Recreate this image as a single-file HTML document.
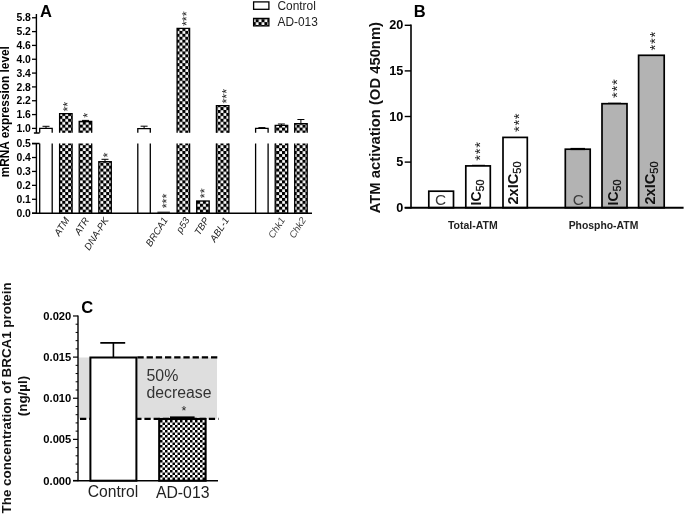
<!DOCTYPE html><html><head><meta charset="utf-8"><title>Figure</title>
<style>html,body{margin:0;padding:0;background:#fff;}svg{display:block;}text{font-family:"Liberation Sans", Arial, sans-serif;}</style></head><body>
<svg width="685" height="516" viewBox="0 0 685 516">
<defs>
<pattern id="chkA" patternUnits="userSpaceOnUse" width="5.86" height="5.86" x="3.65" y="1.6"><rect width="5.86" height="5.86" fill="#fff"/><rect x="0" y="0" width="3.1" height="3.1" fill="#000"/><rect x="2.93" y="2.93" width="3.1" height="3.1" fill="#000"/><rect x="-2.93" y="2.93" width="3.1" height="3.1" fill="#000"/><rect x="2.93" y="-2.93" width="3.1" height="3.1" fill="#000"/></pattern>
<pattern id="chkC" patternUnits="userSpaceOnUse" width="5" height="5" x="0" y="0"><rect width="5" height="5" fill="#fff"/><rect x="0" y="0" width="2.5" height="2.5" fill="#000"/><rect x="2.5" y="2.5" width="2.5" height="2.5" fill="#000"/></pattern>
</defs>
<rect width="685" height="516" fill="#fff"/>
<g id="panelA">
<text x="40" y="16.6" font-size="16.5" font-weight="bold" fill="#000">A</text>
<text transform="translate(8.5,177.3) rotate(-90)" font-size="11.85" font-weight="bold" fill="#000">mRNA expression level</text>
<path d="M36.4 14 V133 M33.9 133 H39.6" fill="none" stroke="#000" stroke-width="1.4"/>
<path d="M36.4 213.2 V143.5 M32 143.5 H39.6" fill="none" stroke="#000" stroke-width="1.4"/>
<path d="M32 128.40 H36.4" stroke="#000" stroke-width="1.3"/>
<text x="30.9" y="132.10" font-size="10.4" font-weight="bold" text-anchor="end" fill="#000">1.0</text>
<path d="M32 114.57 H36.4" stroke="#000" stroke-width="1.3"/>
<text x="30.9" y="118.27" font-size="10.4" font-weight="bold" text-anchor="end" fill="#000">1.6</text>
<path d="M32 100.74 H36.4" stroke="#000" stroke-width="1.3"/>
<text x="30.9" y="104.44" font-size="10.4" font-weight="bold" text-anchor="end" fill="#000">2.2</text>
<path d="M32 86.91 H36.4" stroke="#000" stroke-width="1.3"/>
<text x="30.9" y="90.61" font-size="10.4" font-weight="bold" text-anchor="end" fill="#000">2.8</text>
<path d="M32 73.08 H36.4" stroke="#000" stroke-width="1.3"/>
<text x="30.9" y="76.78" font-size="10.4" font-weight="bold" text-anchor="end" fill="#000">3.4</text>
<path d="M32 59.25 H36.4" stroke="#000" stroke-width="1.3"/>
<text x="30.9" y="62.95" font-size="10.4" font-weight="bold" text-anchor="end" fill="#000">4.0</text>
<path d="M32 45.42 H36.4" stroke="#000" stroke-width="1.3"/>
<text x="30.9" y="49.12" font-size="10.4" font-weight="bold" text-anchor="end" fill="#000">4.6</text>
<path d="M32 31.59 H36.4" stroke="#000" stroke-width="1.3"/>
<text x="30.9" y="35.29" font-size="10.4" font-weight="bold" text-anchor="end" fill="#000">5.2</text>
<path d="M32 17.76 H36.4" stroke="#000" stroke-width="1.3"/>
<text x="30.9" y="21.46" font-size="10.4" font-weight="bold" text-anchor="end" fill="#000">5.8</text>
<path d="M32 213.20 H36.4" stroke="#000" stroke-width="1.3"/>
<text x="30.9" y="216.90" font-size="10.4" font-weight="bold" text-anchor="end" fill="#000">0.0</text>
<path d="M32 199.28 H36.4" stroke="#000" stroke-width="1.3"/>
<text x="30.9" y="202.98" font-size="10.4" font-weight="bold" text-anchor="end" fill="#000">0.1</text>
<path d="M32 185.36 H36.4" stroke="#000" stroke-width="1.3"/>
<text x="30.9" y="189.06" font-size="10.4" font-weight="bold" text-anchor="end" fill="#000">0.2</text>
<path d="M32 171.44 H36.4" stroke="#000" stroke-width="1.3"/>
<text x="30.9" y="175.14" font-size="10.4" font-weight="bold" text-anchor="end" fill="#000">0.3</text>
<path d="M32 157.52 H36.4" stroke="#000" stroke-width="1.3"/>
<text x="30.9" y="161.22" font-size="10.4" font-weight="bold" text-anchor="end" fill="#000">0.4</text>
<path d="M32 143.60 H36.4" stroke="#000" stroke-width="1.3"/>
<text x="30.9" y="147.30" font-size="10.4" font-weight="bold" text-anchor="end" fill="#000">0.5</text>
<rect x="39.7" y="128.4" width="12.5" height="4.4" fill="#fff"/>
<path d="M39.7 132.8 V128.4 H52.2 V132.8" fill="none" stroke="#000" stroke-width="1.3"/>
<rect x="39.7" y="143.5" width="12.5" height="69.7" fill="#fff"/>
<path d="M39.7 143.5 V213.2 M52.2 143.5 V213.2" fill="none" stroke="#000" stroke-width="1.3"/>
<path d="M46.0 128.4 V126.3 M42.5 126.3 H49.5" fill="none" stroke="#000" stroke-width="1"/>
<rect x="59.6" y="113.6" width="12.5" height="19.2" fill="url(#chkA)"/>
<path d="M59.6 132.8 V113.6 H72.1 V132.8" fill="none" stroke="#000" stroke-width="1.3"/>
<rect x="59.6" y="143.5" width="12.5" height="69.7" fill="url(#chkA)"/>
<path d="M59.6 143.5 V213.2 M72.1 143.5 V213.2" fill="none" stroke="#000" stroke-width="1.3"/>
<text transform="translate(72.0,111.5) rotate(-90)" font-size="12.5" fill="#222">**</text>
<rect x="79.2" y="121.5" width="12.5" height="11.3" fill="url(#chkA)"/>
<path d="M79.2 132.8 V121.5 H91.7 V132.8" fill="none" stroke="#000" stroke-width="1.3"/>
<rect x="79.2" y="143.5" width="12.5" height="69.7" fill="url(#chkA)"/>
<path d="M79.2 143.5 V213.2 M91.7 143.5 V213.2" fill="none" stroke="#000" stroke-width="1.3"/>
<path d="M85.5 121.5 V120.4 M82.0 120.4 H89.0" fill="none" stroke="#000" stroke-width="1"/>
<text transform="translate(92.2,117.8) rotate(-90)" font-size="12.5" fill="#222">*</text>
<rect x="98.8" y="161.7" width="12.5" height="51.5" fill="url(#chkA)" stroke="#000" stroke-width="1.3"/>
<path d="M105.0 161.7 V159.3 M101.5 159.3 H108.5" fill="none" stroke="#000" stroke-width="1"/>
<text transform="translate(112.0,157.5) rotate(-90)" font-size="12.5" fill="#222">*</text>
<rect x="137.8" y="128.6" width="12.5" height="4.2" fill="#fff"/>
<path d="M137.8 132.8 V128.6 H150.3 V132.8" fill="none" stroke="#000" stroke-width="1.3"/>
<rect x="137.8" y="143.5" width="12.5" height="69.7" fill="#fff"/>
<path d="M137.8 143.5 V213.2 M150.3 143.5 V213.2" fill="none" stroke="#000" stroke-width="1.3"/>
<path d="M144.1 128.6 V126.2 M140.6 126.2 H147.6" fill="none" stroke="#000" stroke-width="1"/>
<path d="M157.4 212.2 H169.9" stroke="#000" stroke-width="1"/>
<text transform="translate(171.0,208.3) rotate(-90)" font-size="12.5" fill="#222">***</text>
<rect x="177.1" y="28.4" width="12.5" height="104.4" fill="url(#chkA)"/>
<path d="M177.1 132.8 V28.4 H189.6 V132.8" fill="none" stroke="#000" stroke-width="1.3"/>
<rect x="177.1" y="143.5" width="12.5" height="69.7" fill="url(#chkA)"/>
<path d="M177.1 143.5 V213.2 M189.6 143.5 V213.2" fill="none" stroke="#000" stroke-width="1.3"/>
<text transform="translate(190.8,26.0) rotate(-90)" font-size="12.5" fill="#222">***</text>
<rect x="196.7" y="201.0" width="12.5" height="12.2" fill="url(#chkA)" stroke="#000" stroke-width="1.3"/>
<text transform="translate(209.0,198.2) rotate(-90)" font-size="12.5" fill="#222">**</text>
<rect x="216.4" y="105.7" width="12.5" height="27.1" fill="url(#chkA)"/>
<path d="M216.4 132.8 V105.7 H228.9 V132.8" fill="none" stroke="#000" stroke-width="1.3"/>
<rect x="216.4" y="143.5" width="12.5" height="69.7" fill="url(#chkA)"/>
<path d="M216.4 143.5 V213.2 M228.9 143.5 V213.2" fill="none" stroke="#000" stroke-width="1.3"/>
<text transform="translate(230.9,103.5) rotate(-90)" font-size="12.5" fill="#222">***</text>
<rect x="255.6" y="128.3" width="12.5" height="4.5" fill="#fff"/>
<path d="M255.6 132.8 V128.3 H268.1 V132.8" fill="none" stroke="#000" stroke-width="1.3"/>
<rect x="255.6" y="143.5" width="12.5" height="69.7" fill="#fff"/>
<path d="M255.6 143.5 V213.2 M268.1 143.5 V213.2" fill="none" stroke="#000" stroke-width="1.3"/>
<path d="M261.9 128.3 V127.6 M258.4 127.6 H265.4" fill="none" stroke="#000" stroke-width="1"/>
<rect x="275.2" y="125.3" width="12.5" height="7.5" fill="url(#chkA)"/>
<path d="M275.2 132.8 V125.3 H287.7 V132.8" fill="none" stroke="#000" stroke-width="1.3"/>
<rect x="275.2" y="143.5" width="12.5" height="69.7" fill="url(#chkA)"/>
<path d="M275.2 143.5 V213.2 M287.7 143.5 V213.2" fill="none" stroke="#000" stroke-width="1.3"/>
<path d="M281.4 125.3 V124.0 M277.9 124.0 H284.9" fill="none" stroke="#000" stroke-width="1"/>
<rect x="294.7" y="123.7" width="12.5" height="9.1" fill="url(#chkA)"/>
<path d="M294.7 132.8 V123.7 H307.2 V132.8" fill="none" stroke="#000" stroke-width="1.3"/>
<rect x="294.7" y="143.5" width="12.5" height="69.7" fill="url(#chkA)"/>
<path d="M294.7 143.5 V213.2 M307.2 143.5 V213.2" fill="none" stroke="#000" stroke-width="1.3"/>
<path d="M300.9 123.7 V119.5 M297.4 119.5 H304.4" fill="none" stroke="#000" stroke-width="1"/>
<path d="M32 213.2 H312" stroke="#000" stroke-width="1.4"/>
<text transform="translate(69.8,220) rotate(-57.5)" font-size="9.7" font-style="italic" text-anchor="end" fill="#222">ATM</text>
<text transform="translate(89.5,220) rotate(-57.5)" font-size="9.7" font-style="italic" text-anchor="end" fill="#222">ATR</text>
<text transform="translate(109.0,220) rotate(-57.5)" font-size="9.7" font-style="italic" text-anchor="end" fill="#222">DNA-PK</text>
<text transform="translate(168.2,220) rotate(-57.5)" font-size="9.7" font-style="italic" text-anchor="end" fill="#222">BRCA1</text>
<text transform="translate(190.0,220) rotate(-57.5)" font-size="9.7" font-style="italic" text-anchor="end" fill="#222">p53</text>
<text transform="translate(209.5,220) rotate(-57.5)" font-size="9.7" font-style="italic" text-anchor="end" fill="#222">TBP</text>
<text transform="translate(229.5,220) rotate(-57.5)" font-size="9.7" font-style="italic" text-anchor="end" fill="#222">ABL-1</text>
<text transform="translate(285.4,220) rotate(-57.5)" font-size="9.7" font-style="italic" text-anchor="end" fill="#444">Chk1</text>
<text transform="translate(306.3,220) rotate(-57.5)" font-size="9.7" font-style="italic" text-anchor="end" fill="#444">Chk2</text>
<rect x="253.6" y="1.9" width="15.3" height="7.4" fill="#fff" stroke="#000" stroke-width="1.3"/>
<rect x="253.6" y="18.4" width="15.3" height="7.5" fill="url(#chkA)" stroke="#000" stroke-width="1.3"/>
<text x="277.5" y="9.5" font-size="11.9" fill="#222">Control</text>
<text x="277.5" y="26.0" font-size="11.9" fill="#222">AD-013</text>
</g>
<g id="panelB">
<text x="413.8" y="16.7" font-size="16.5" font-weight="bold" fill="#000">B</text>
<text transform="translate(379.7,213.3) rotate(-90)" font-size="14.8" font-weight="bold" fill="#111">ATM activation (OD 450nm)</text>
<path d="M411.0 24.6 V208.5" stroke="#000" stroke-width="1.6"/>
<path d="M404.7 207.70 H411.0" stroke="#000" stroke-width="1.4"/>
<text x="403.3" y="211.80" font-size="12.7" font-weight="bold" text-anchor="end" fill="#000">0</text>
<path d="M404.7 162.10 H411.0" stroke="#000" stroke-width="1.4"/>
<text x="403.3" y="166.20" font-size="12.7" font-weight="bold" text-anchor="end" fill="#000">5</text>
<path d="M404.7 116.50 H411.0" stroke="#000" stroke-width="1.4"/>
<text x="403.3" y="120.60" font-size="12.7" font-weight="bold" text-anchor="end" fill="#000">10</text>
<path d="M404.7 70.90 H411.0" stroke="#000" stroke-width="1.4"/>
<text x="403.3" y="75.00" font-size="12.7" font-weight="bold" text-anchor="end" fill="#000">15</text>
<path d="M404.7 25.30 H411.0" stroke="#000" stroke-width="1.4"/>
<text x="403.3" y="29.40" font-size="12.7" font-weight="bold" text-anchor="end" fill="#000">20</text>
<rect x="428.8" y="191.2" width="24.7" height="16.5" fill="#fff" stroke="#000" stroke-width="1.7"/>
<rect x="465.8" y="165.9" width="24.5" height="41.8" fill="#fff" stroke="#000" stroke-width="1.7"/>
<rect x="503.0" y="137.4" width="24.3" height="70.3" fill="#fff" stroke="#000" stroke-width="1.7"/>
<rect x="565.3" y="149.2" width="24.9" height="58.5" fill="#b3b3b3" stroke="#000" stroke-width="1.7"/>
<rect x="602.0" y="103.7" width="25.0" height="104.0" fill="#b3b3b3" stroke="#000" stroke-width="1.7"/>
<rect x="638.6" y="55.3" width="25.6" height="152.4" fill="#b3b3b3" stroke="#000" stroke-width="1.7"/>
<path d="M404.7 207.8 H683.6" stroke="#000" stroke-width="1.9"/>
<path d="M472 165.4 H485" stroke="#000" stroke-width="1.2"/>
<path d="M570.5 149.0 H585" stroke="#000" stroke-width="2.2"/>
<path d="M608 103.3 H621" stroke="#000" stroke-width="1.2"/>
<text x="440.6" y="205.4" font-size="15.4" text-anchor="middle" fill="#3c3c3c">C</text>
<text x="578.2" y="205.4" font-size="15.4" text-anchor="middle" fill="#3c3c3c">C</text>
<text transform="translate(481.2,205.5) rotate(-90)" font-size="14" font-weight="bold" fill="#111">IC<tspan font-size="10.8" font-weight="normal" dy="3" stroke="#111" stroke-width="0.3">50</tspan></text>
<text transform="translate(617.7,205.5) rotate(-90)" font-size="14" font-weight="bold" fill="#111">IC<tspan font-size="10.8" font-weight="normal" dy="3" stroke="#111" stroke-width="0.3">50</tspan></text>
<text transform="translate(518.4,204.5) rotate(-90)" font-size="14.6" font-weight="bold" fill="#111">2xIC<tspan font-size="11" font-weight="normal" dy="3" stroke="#111" stroke-width="0.3">50</tspan></text>
<text transform="translate(654.6,204.5) rotate(-90)" font-size="14.6" font-weight="bold" fill="#111">2xIC<tspan font-size="11" font-weight="normal" dy="3" stroke="#111" stroke-width="0.3">50</tspan></text>
<text transform="translate(485.0,160.7) rotate(-90)" font-size="15.0" fill="#222" letter-spacing="0.6">***</text>
<text transform="translate(524.0,132.0) rotate(-90)" font-size="15.0" fill="#222" letter-spacing="0.6">***</text>
<text transform="translate(622.0,97.9) rotate(-90)" font-size="15.0" fill="#222" letter-spacing="0.6">***</text>
<text transform="translate(660.4,50.4) rotate(-90)" font-size="15.0" fill="#222" letter-spacing="0.6">***</text>
<text x="472.8" y="228.7" font-size="10.5" font-weight="bold" text-anchor="middle" fill="#222">Total-ATM</text>
<text x="603.5" y="229.3" font-size="10.4" font-weight="bold" text-anchor="middle" fill="#222">Phospho-ATM</text>
</g>
<g id="panelC">
<text x="81.3" y="313.3" font-size="16.5" font-weight="bold" fill="#000">C</text>
<text transform="translate(10.9,513.4) rotate(-90)" font-size="13.38" font-weight="bold" fill="#111">The concentration of BRCA1 protein</text>
<text transform="translate(27,396) rotate(-90)" font-size="13.38" font-weight="bold" text-anchor="middle" fill="#111">(ng/µl)</text>
<rect x="78" y="357.5" width="139" height="61.2" fill="#dedede"/>
<path d="M78.0 315.5 V481.3" stroke="#000" stroke-width="1.4"/>
<path d="M73 480.50 H78.0" stroke="#000" stroke-width="1.2"/>
<text x="71.3" y="484.50" font-size="11.2" font-weight="bold" text-anchor="end" fill="#000">0.000</text>
<path d="M75.6 472.27 H78.0" stroke="#000" stroke-width="1"/>
<path d="M75.6 464.05 H78.0" stroke="#000" stroke-width="1"/>
<path d="M75.6 455.82 H78.0" stroke="#000" stroke-width="1"/>
<path d="M75.6 447.60 H78.0" stroke="#000" stroke-width="1"/>
<path d="M73 439.37 H78.0" stroke="#000" stroke-width="1.2"/>
<text x="71.3" y="443.37" font-size="11.2" font-weight="bold" text-anchor="end" fill="#000">0.005</text>
<path d="M75.6 431.14 H78.0" stroke="#000" stroke-width="1"/>
<path d="M75.6 422.92 H78.0" stroke="#000" stroke-width="1"/>
<path d="M75.6 414.69 H78.0" stroke="#000" stroke-width="1"/>
<path d="M75.6 406.47 H78.0" stroke="#000" stroke-width="1"/>
<path d="M73 398.24 H78.0" stroke="#000" stroke-width="1.2"/>
<text x="71.3" y="402.24" font-size="11.2" font-weight="bold" text-anchor="end" fill="#000">0.010</text>
<path d="M75.6 390.01 H78.0" stroke="#000" stroke-width="1"/>
<path d="M75.6 381.79 H78.0" stroke="#000" stroke-width="1"/>
<path d="M75.6 373.56 H78.0" stroke="#000" stroke-width="1"/>
<path d="M75.6 365.34 H78.0" stroke="#000" stroke-width="1"/>
<path d="M73 357.11 H78.0" stroke="#000" stroke-width="1.2"/>
<text x="71.3" y="361.11" font-size="11.2" font-weight="bold" text-anchor="end" fill="#000">0.015</text>
<path d="M75.6 348.88 H78.0" stroke="#000" stroke-width="1"/>
<path d="M75.6 340.66 H78.0" stroke="#000" stroke-width="1"/>
<path d="M75.6 332.43 H78.0" stroke="#000" stroke-width="1"/>
<path d="M75.6 324.21 H78.0" stroke="#000" stroke-width="1"/>
<path d="M73 315.98 H78.0" stroke="#000" stroke-width="1.2"/>
<text x="71.3" y="319.98" font-size="11.2" font-weight="bold" text-anchor="end" fill="#000">0.020</text>
<path d="M137.4 357.3 H218.5" stroke="#000" stroke-width="2.2" stroke-dasharray="6.3 2.9"/>
<path d="M78 418.8 H218.5" stroke="#000" stroke-width="2.2" stroke-dasharray="6.3 2.9" stroke-dashoffset="-2"/>
<rect x="90.4" y="357.5" width="46" height="123.2" fill="#fff" stroke="#000" stroke-width="2"/>
<path d="M113.4 357.5 V342.9 M100.3 342.9 H125.2" fill="none" stroke="#000" stroke-width="1.6"/>
<rect x="159.2" y="419" width="46.4" height="61.7" fill="url(#chkC)" stroke="#000" stroke-width="2.1"/>
<path d="M170 417.4 H194.6" stroke="#000" stroke-width="2"/>
<path d="M73 480.7 H218" stroke="#000" stroke-width="1.5"/>
<text x="146.5" y="380.6" font-size="15.9" fill="#333">50%</text>
<text x="146.5" y="398.4" font-size="15.8" fill="#333">decrease</text>
<text x="184" y="415.2" font-size="12.5" text-anchor="middle" fill="#222">*</text>
<text x="113" y="496.9" font-size="15.7" text-anchor="middle" fill="#222">Control</text>
<text x="182.7" y="498" font-size="15.8" text-anchor="middle" fill="#222">AD-013</text>
</g>
</svg></body></html>
